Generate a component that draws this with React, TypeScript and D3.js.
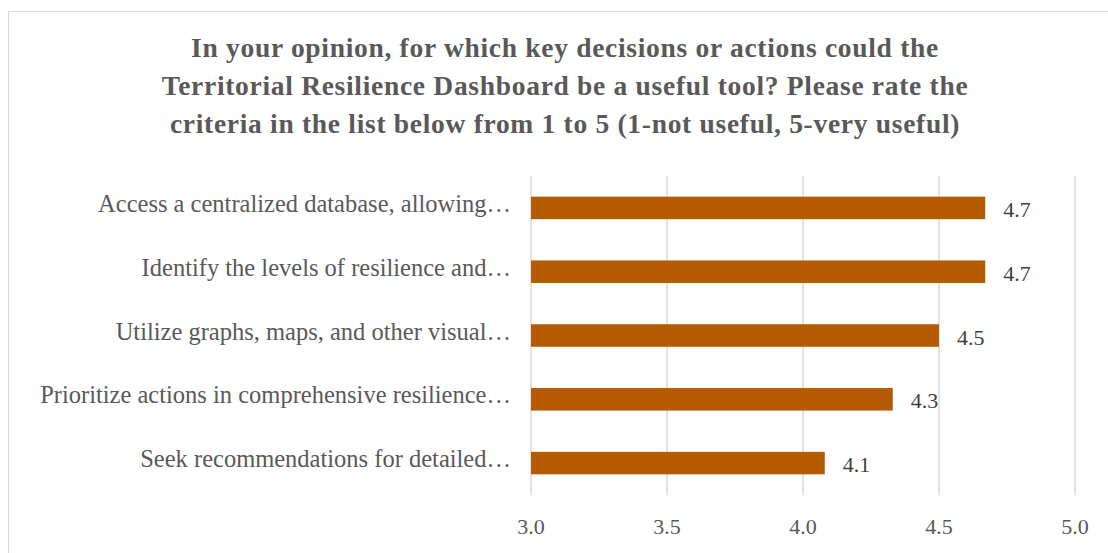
import React from "react";
import * as d3 from "d3";

const categories = [
  "Access a centralized database, allowing…",
  "Identify the levels of resilience and…",
  "Utilize graphs, maps, and other visual…",
  "Prioritize actions in comprehensive resilience…",
  "Seek recommendations for detailed…",
];
const values = [4.67, 4.67, 4.5, 4.33, 4.08];
const xTicks = [3.0, 3.5, 4.0, 4.5, 5.0];
const titleLines = [
  "In your opinion, for which key decisions or actions could the",
  "Territorial Resilience Dashboard be a useful tool? Please rate the",
  "criteria in the list below from 1 to 5 (1-not useful, 5-very useful)",
];

const W = 1108;
const H = 553;
const FONT = "'Liberation Serif', 'DejaVu Serif', serif";

export default function App() {
  const x = d3.scaleLinear().domain([3, 5]).range([531, 1075]);
  const y = d3
    .scaleBand<string>()
    .domain(categories)
    .range([176, 495])
    .paddingInner(0.647)
    .paddingOuter(0.3235);
  const grid = "#d9d9d9";
  const text = "#595959";
  return (
    <svg
      width={W}
      height={H}
      style={{ position: "absolute", left: 0, top: 0, background: "#fff" }}
    >
      <rect x={8.5} y={11.5} width={W + 20} height={H + 20} fill="#fff" stroke="#d9d9d9" strokeWidth={1} />
      {titleLines.map((t, i) => (
        <text
          key={i}
          x={565}
          y={57 + i * 38}
          textAnchor="middle"
          fontFamily={FONT}
          fontWeight="bold"
          fontSize={27.5}
          letterSpacing={0.7}
          fill={text}
        >
          {t}
        </text>
      ))}
      {xTicks.map((t) => (
        <line key={t} x1={x(t)} x2={x(t)} y1={176} y2={495} stroke={grid} strokeWidth={1.5} />
      ))}
      {categories.map((c, i) => (
        <g key={c}>
          <rect
            x={x(3)}
            y={y(c)!}
            width={x(values[i]) - x(3)}
            height={y.bandwidth()}
            fill="#b45b00"
          />
          <text
            x={x(values[i]) + 18}
            y={y(c)! + y.bandwidth() / 2 + 9}
            fontFamily={FONT}
            fontSize={22}
            fill="#404040"
          >
            {d3.format(".1f")(values[i])}
          </text>
          <text
            x={511}
            y={y(c)! + y.bandwidth() / 2 + 4}
            textAnchor="end"
            fontFamily={FONT}
            fontSize={24.5}
            fill={text}
          >
            {c}
          </text>
        </g>
      ))}
      {xTicks.map((t) => (
        <text
          key={t}
          x={x(t)}
          y={534}
          textAnchor="middle"
          fontFamily={FONT}
          fontSize={22}
          fill={text}
        >
          {d3.format(".1f")(t)}
        </text>
      ))}
    </svg>
  );
}
